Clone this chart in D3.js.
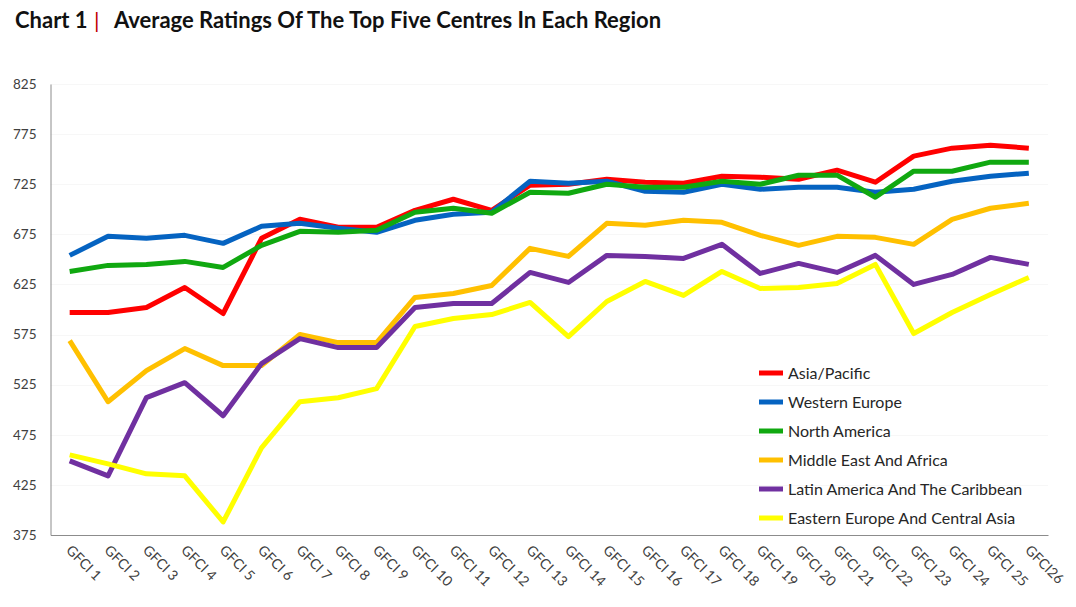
<!DOCTYPE html>
<html>
<head>
<meta charset="utf-8">
<script src="https://cdn.jsdelivr.net/npm/d3@7"></script>
<style>
  html, body { margin: 0; padding: 0; background: #fff; }
  svg { display: block; font-family: Lato, "Open Sans", sans-serif; }
</style>
</head>
<body>
<svg id="chart" width="1076" height="607"></svg>
<script>
const categories = ["GFCI 1","GFCI 2","GFCI 3","GFCI 4","GFCI 5","GFCI 6","GFCI 7","GFCI 8","GFCI 9","GFCI 10",
  "GFCI 11","GFCI 12","GFCI 13","GFCI 14","GFCI 15","GFCI 16","GFCI 17","GFCI 18","GFCI 19","GFCI 20",
  "GFCI 21","GFCI 22","GFCI 23","GFCI 24","GFCI 25","GFCI26"];

const seriesNames = ["Asia/Pacific","Western Europe","North America","Middle East And Africa",
  "Latin America And The Caribbean","Eastern Europe And Central Asia"];

const asiaPacific   = [597,597,602,622,596,671,690,682,682,699,710,699,724,725,730,727,726,733,732,730,739,727,753,761,764,761];
const westernEurope = [654,673,671,674,666,683,686,681,677,689,695,697,728,726,728,718,717,725,720,722,722,717,720,728,733,736];
const northAmerica  = [638,644,645,648,642,664,678,677,679,697,701,696,717,716,725,722,722,728,725,734,734,712,738,738,747,747];
const middleEast    = [569,508,539,561,544,544,575,567,567,612,616,624,661,653,686,684,689,687,674,664,673,672,665,690,701,706];
const latinAmerica  = [449,434,512,527,494,546,571,562,562,602,606,606,637,627,654,653,651,665,636,646,637,654,625,635,652,645];
const easternEurope = [455,446,436,434,388,462,508,512,521,583,591,595,607,573,608,628,614,638,621,622,626,645,576,597,615,632];

const yTicks = [375,425,475,525,575,625,675,725,775,825];
const colors = ["#FF0000","#0563C1","#10A810","#FFC000","#7030A0","#FFFF00"];

const allSeries = [asiaPacific, westernEurope, northAmerica, middleEast, latinAmerica, easternEurope];

const svg = d3.select("#chart");
const plotLeft = 50.5, plotRight = 1048, plotTop = 84, plotBottom = 535;

const x = d3.scalePoint().domain(categories).range([plotLeft, plotRight]).padding(0.5);
const y = d3.scaleLinear().domain([375, 825]).range([plotBottom, plotTop]);

// Title
const tg = svg.append("g").attr("font-size", 22).attr("font-weight", "bold").attr("fill", "#111");
tg.append("text").attr("x", 15).attr("y", 28).text("Chart 1");
tg.append("text").attr("x", 94).attr("y", 28).attr("fill", "#C00000").attr("font-weight", "normal").text("|");
tg.append("text").attr("x", 114).attr("y", 28).text("Average Ratings Of The Top Five Centres In Each Region");

// gridlines
svg.append("g").selectAll("line").data(yTicks.slice(1)).join("line")
  .attr("x1", plotLeft).attr("x2", plotRight)
  .attr("y1", d => Math.round(y(d)) + 0.5).attr("y2", d => Math.round(y(d)) + 0.5)
  .attr("stroke", "#f7f7f7").attr("stroke-width", 1);

// Y axis
const yAxis = d3.axisLeft(y).tickValues(yTicks).tickSize(0).tickPadding(14);
const gy = svg.append("g").attr("transform", `translate(${plotLeft},0)`).call(yAxis);
gy.select(".domain").attr("stroke", "#8c8c8c");
gy.selectAll("text").attr("font-size", 13.5).attr("fill", "#404040").attr("font-family", "Lato, sans-serif");

// X axis
const xAxis = d3.axisBottom(x).tickSize(0).tickPadding(0);
const gx = svg.append("g").attr("transform", `translate(0,${plotBottom})`).call(xAxis);
gx.select(".domain").attr("stroke", "#8c8c8c");
gx.selectAll("text")
  .attr("font-size", 14).attr("fill", "#404040").attr("font-family", "Lato, sans-serif")
  .attr("text-anchor", "start")
  .attr("dy", null).attr("y", 0)
  .attr("transform", "translate(-5,16) rotate(45)");

// Lines
const line = d3.line().x((d, i) => x(categories[i])).y(d => y(d));
svg.append("g").selectAll("path").data(allSeries).join("path")
  .attr("d", d => line(d))
  .attr("fill", "none")
  .attr("stroke", (d, i) => colors[i])
  .attr("stroke-width", 5)
  .attr("stroke-linejoin", "round")
  .attr("stroke-linecap", "butt");

// Legend
const legend = svg.append("g").attr("transform", "translate(759,373)");
const items = legend.selectAll("g").data(seriesNames).join("g")
  .attr("transform", (d, i) => `translate(0,${i * 29})`);
items.append("line").attr("x1", 0).attr("x2", 24).attr("y1", 0).attr("y2", 0)
  .attr("stroke", (d, i) => colors[i]).attr("stroke-width", 5);
items.append("text").attr("x", 29).attr("y", 0).attr("dy", "0.35em")
  .attr("font-size", 16).attr("fill", "#262626").text(d => d);
</script>
</body>
</html>
